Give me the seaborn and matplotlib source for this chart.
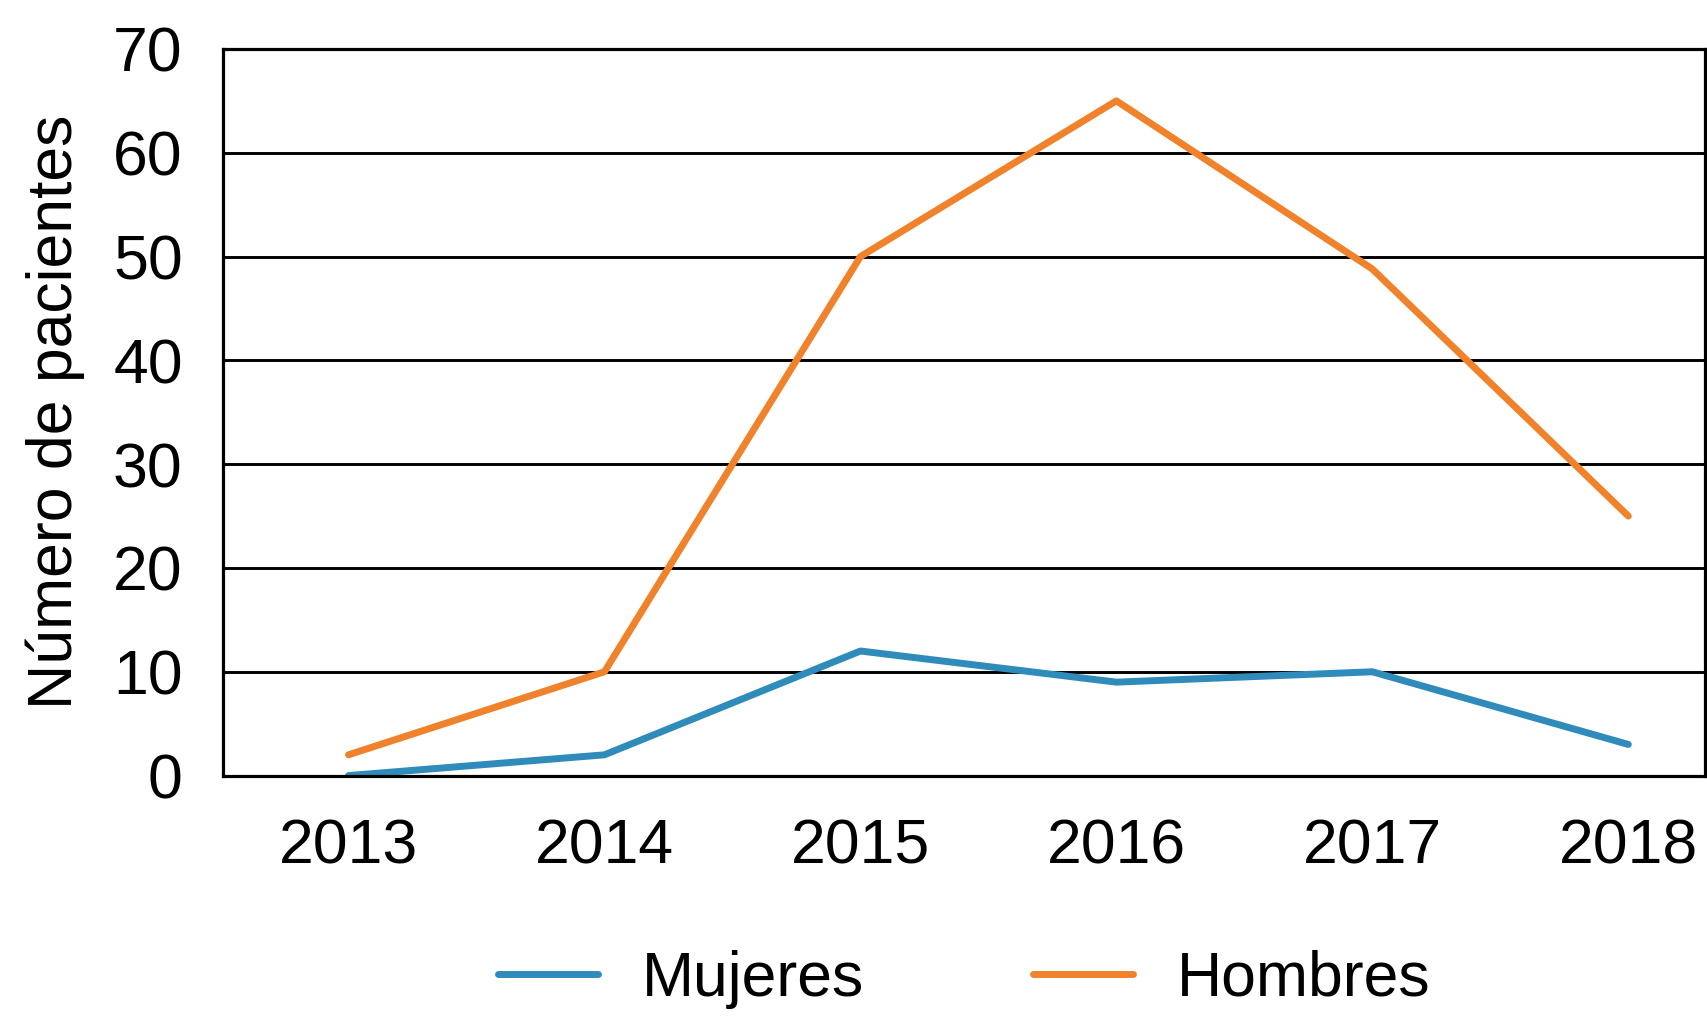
import matplotlib
matplotlib.use("Agg")
import matplotlib.pyplot as plt
import pandas as pd
import seaborn as sns

# datos
years = ["2013", "2014", "2015", "2016", "2017", "2018"]
mujeres = [0, 2, 12, 9, 10, 3]
hombres = [2, 10, 50, 65, 48.8, 25]
series_names = ["Mujeres", "Hombres"]
colors = ["#2E8BBA", "#F0822C"]

df = pd.DataFrame({
    "Año": years * 2,
    "Pacientes": mujeres + hombres,
    "Sexo": [series_names[0]] * len(years) + [series_names[1]] * len(years),
})

sns.set_style("white")
plt.rcParams['font.family'] = ['Liberation Sans', 'DejaVu Sans']
plt.rcParams['text.color'] = 'black'

fig = plt.figure(figsize=(17.08, 10.24), dpi=100)
ax = fig.add_axes([0.1306, 0.2426, 0.8677, 0.7096])

sns.lineplot(data=df, x="Año", y="Pacientes", hue="Sexo", palette=colors,
             ax=ax, legend=True, sort=False)
for ln in ax.lines:
    ln.set_linewidth(5)

ax.set_xlim(-0.49, len(years) - 0.7)
ax.set_ylim(0, 70)
ax.set_yticks(range(0, 71, 10))
ax.yaxis.grid(True, color="black", linewidth=2.1)
ax.set_axisbelow(True)
for s in ax.spines.values():
    s.set_color("black")
    s.set_linewidth(2.3)

ax.tick_params(axis="both", length=0, labelsize=45, colors="black")
ax.tick_params(axis="x", pad=30)
ax.tick_params(axis="y", pad=29)
ax.set_xlabel("")
ax.set_ylabel("Número de pacientes", fontsize=45, color="black")
ax.yaxis.set_label_coords(-0.093, 0.5)

handles, labels = ax.get_legend_handles_labels()
for h in handles:
    h.set_linewidth(5)
leg = ax.legend(handles, labels, loc="center", bbox_to_anchor=(0.5, -0.28),
                ncol=2, frameon=False, fontsize=45, handlelength=1.6,
                columnspacing=2.7, handletextpad=0.7)
for t in leg.get_texts():
    t.set_color("black")

fig.savefig("out.png", dpi=100)
